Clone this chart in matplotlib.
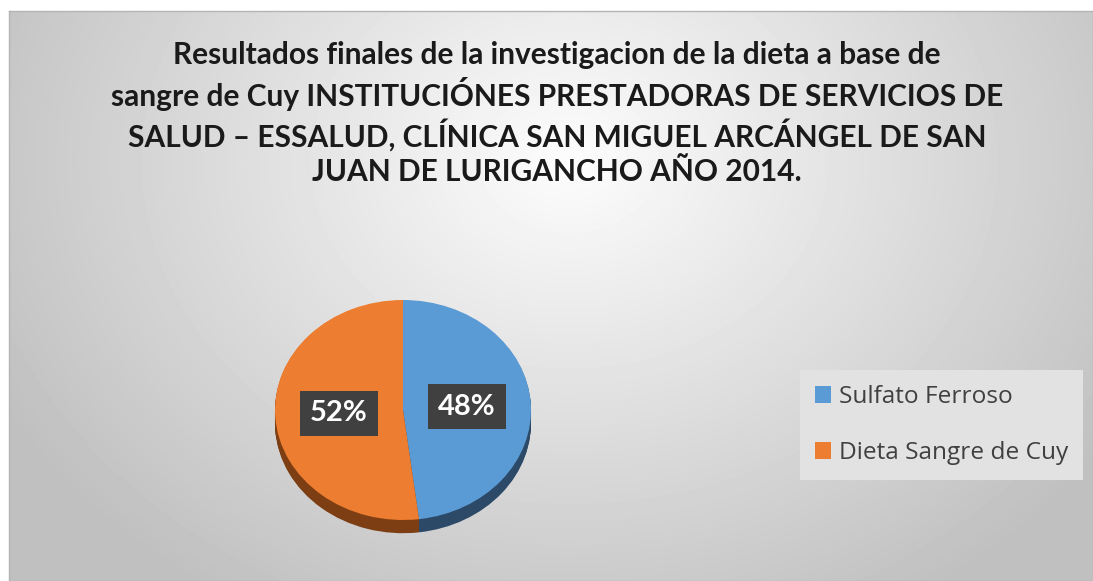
import numpy as np
import matplotlib
matplotlib.use("Agg")
import matplotlib.pyplot as plt

# datos del grafico
categorias = ["Sulfato Ferroso", "Dieta Sangre de Cuy"]
valores = [48, 52]
colores = ["#5B9BD5", "#ED7D31"]
colores_lado = ["#2C4A68", "#7C3E12"]
titulo = ("Resultados finales de la investigacion de la dieta a base de\n"
          "sangre de Cuy INSTITUCIÓNES PRESTADORAS DE SERVICIOS DE\n"
          "SALUD – ESSALUD, CLÍNICA SAN MIGUEL ARCÁNGEL DE SAN\n"
          "JUAN DE LURIGANCHO AÑO 2014.")

plt.rcParams['font.family'] = ['Lato', 'DejaVu Sans']

W, H = 1093, 581
fig = plt.figure(figsize=(W / 100, H / 100), dpi=100)
fig.patch.set_facecolor("white")

# fondo con degradado radial
bg = fig.add_axes([9 / W, 0, 1 - 9 / W, (H - 11) / H])
yy, xx = np.mgrid[0:570, 0:1084]
r = np.sqrt(((xx - 560) / 650) ** 2 + ((yy - 150) / 520) ** 2)
g = np.clip(0.99 - 0.24 * r, 0.75, 0.99)
bg.imshow(g, cmap="gray", vmin=0, vmax=1, aspect="auto")
bg.set_xticks([])
bg.set_yticks([])
for s in bg.spines.values():
    s.set_color("#b4b4b4")
    s.set_linewidth(1)

# titulo
fig.text(557 / W, 1 - 41 / H, titulo, ha="center", va="top", fontsize=21.5,
         fontweight="bold", color="#1a1a1a", linespacing=1.28)

# pastel "3D": cara lateral apilada y cara superior
ax = fig.add_axes([(403 - 160) / W, (H - 410 - 137.5) / H, 320 / W, 275 / H])
prof = 0.12
for dz in np.linspace(prof, 0.0, 14)[:-1]:
    ax.pie(valores, colors=colores_lado, startangle=90, counterclock=False,
           center=(0, -dz), wedgeprops=dict(linewidth=0))
wedges, _, autotexts = ax.pie(valores, colors=colores, startangle=90, counterclock=False,
                              autopct='%1.0f%%', pctdistance=0.5,
                              wedgeprops=dict(linewidth=0))
for t in autotexts:
    t.set_color("white")
    t.set_fontsize(21)
    t.set_fontweight("bold")
    t.set_bbox(dict(boxstyle="square,pad=0.34", facecolor="#404040", edgecolor="none"))
ax.set_xlim(-1.25, 1.25)
ax.set_ylim(-1.25, 1.25)
ax.set_aspect("auto")
ax.axis("off")

# leyenda
leg = fig.legend(wedges, categorias, loc="upper left",
                 bbox_to_anchor=(800 / W, 1 - 370 / H), borderaxespad=0,
                 frameon=True, fancybox=False,
                 facecolor="#e2e2e2", edgecolor="none", framealpha=1,
                 handlelength=0.66, handleheight=0.66, handletextpad=0.3,
                 labelspacing=1.3, borderpad=0.62,
                 prop=dict(family=["Open Sans", "DejaVu Sans"], size=17.6))
for t in leg.get_texts():
    t.set_color("#404040")

fig.savefig("out.png", dpi=100)
